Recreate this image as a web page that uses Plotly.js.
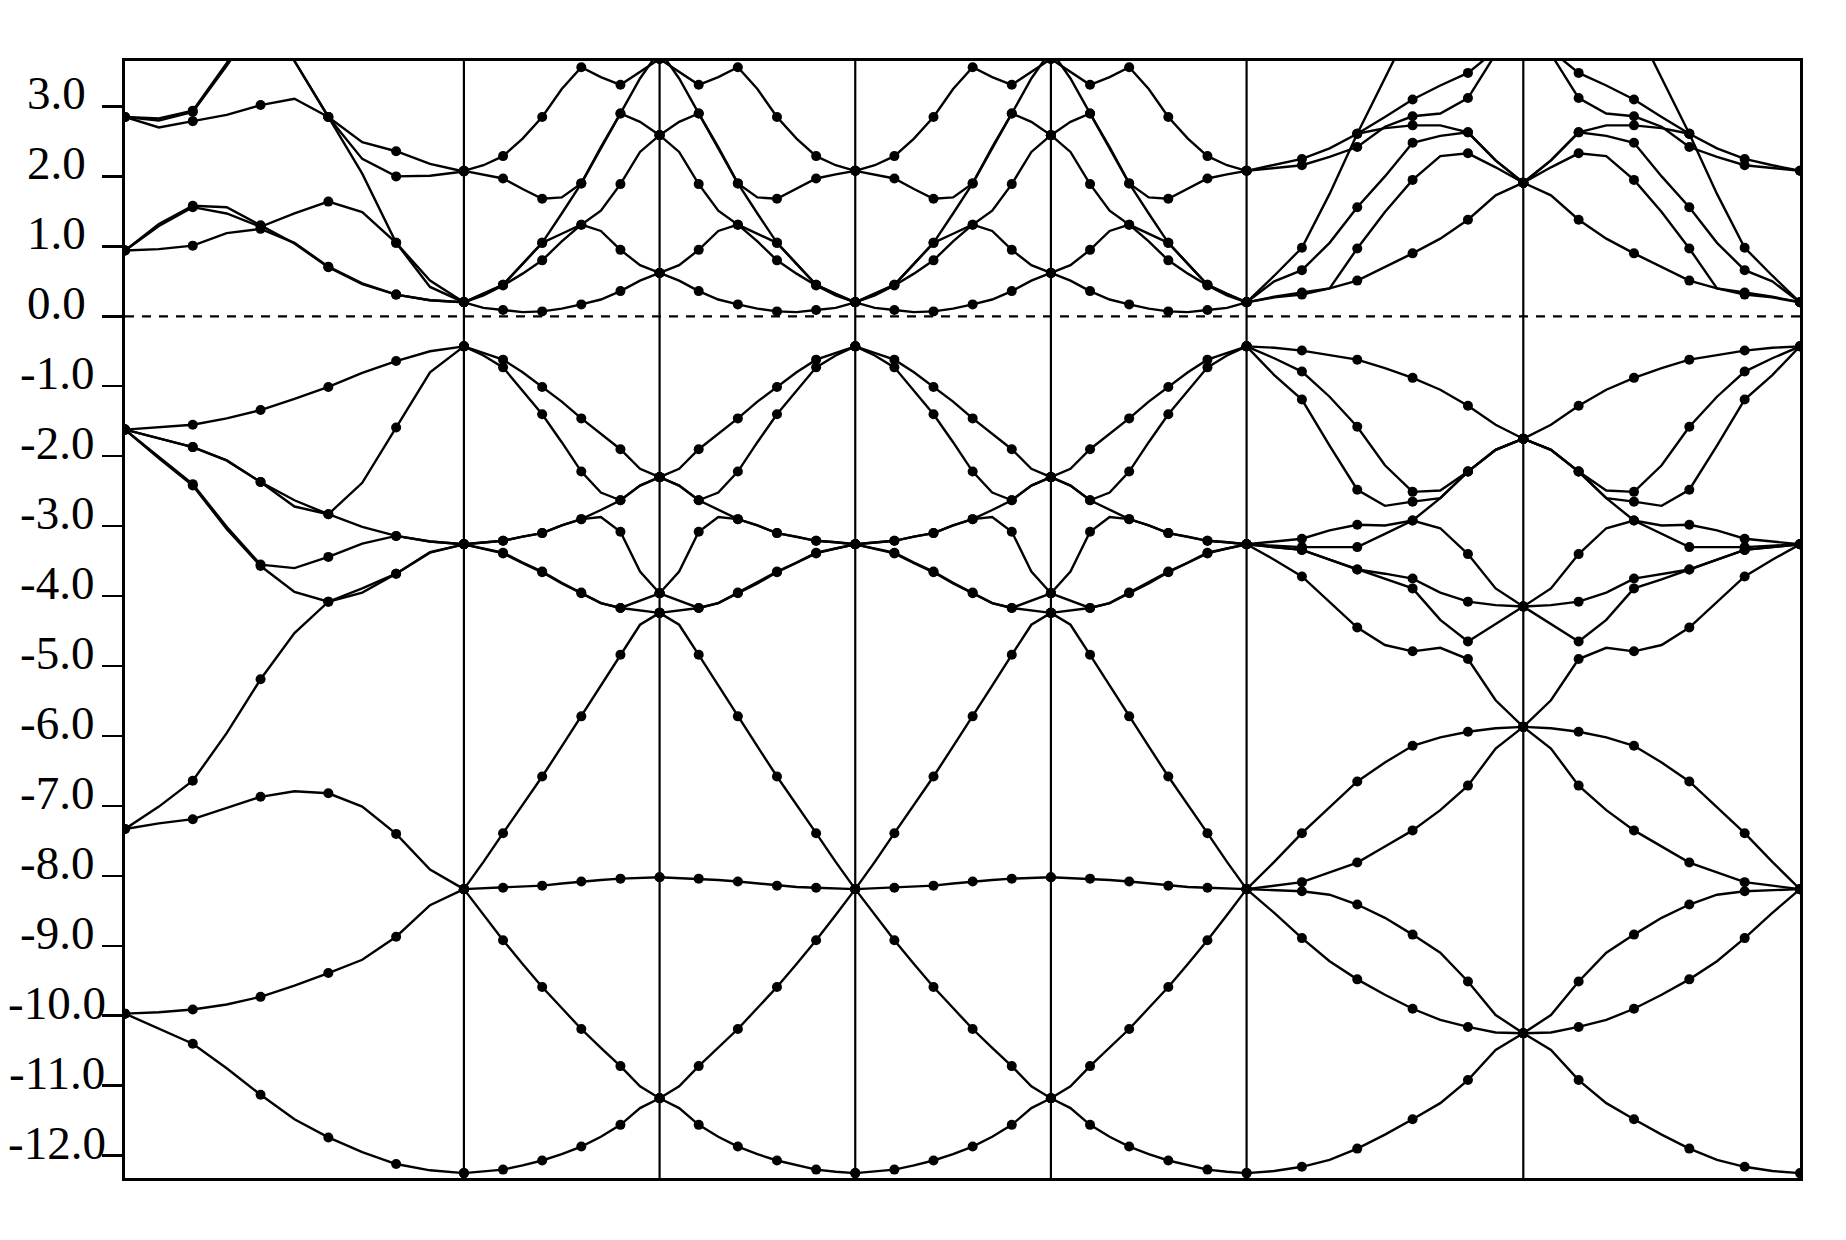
<!DOCTYPE html>
<html>
<head>
<meta charset="utf-8">
<script src="https://cdn.plot.ly/plotly-3.0.1.min.js"></script>
<style>
  html, body { margin: 0; padding: 0; background: #fff; }
  #chart { width: 1846px; height: 1240px; }
</style>
</head>
<body>
<div id="chart"></div>
<script>
// High-symmetry k positions along the path (cumulative distance)
const kTicks = [0, 1.7321, 2.7321, 3.7321, 4.7321, 5.7321, 7.1463, 8.5605];

// Y-axis tick labels
const yTickVals = [3, 2, 1, 0, -1, -2, -3, -4, -5, -6, -7, -8, -9, -10, -11, -12];
const yTickText = ['3.0', '2.0', '1.0', '0.0', '-1.0', '-2.0', '-3.0', '-4.0', '-5.0', '-6.0',
                   '-7.0', '-8.0', '-9.0', '-10.0', '-11.0', '-12.0'];

// ---- Segment 1 (left point -> Gamma), 11 k-points each ----
const s1_c1 = [2.85, 2.80, 2.92, 3.58, 4.30, null, null, null, null, null, null];
const s1_c2 = [2.85, 2.83, 2.94, 3.62, 4.35, null, null, null, null, null, null];
const s1_c3 = [2.85, 2.70, 2.79, 2.88, 3.02, 3.11, 2.85, 2.49, 2.36, 2.18, 2.07];
const s1_c4 = [null, null, null, null, 4.40, 3.65, 2.85, 2.04, 1.05, 0.42, 0.20];
const s1_c5 = [null, null, null, null, 4.40, 3.65, 2.85, 2.25, 2.00, 2.01, 2.07];
const s1_c6 = [0.94, 0.96, 1.01, 1.19, 1.25, 1.05, 0.71, 0.47, 0.31, 0.23, 0.20];
const s1_c7 = [0.94, 1.32, 1.58, 1.56, 1.30, 1.04, 0.70, 0.46, 0.31, 0.23, 0.20];
const s1_c8 = [0.94, 1.29, 1.56, 1.47, 1.28, 1.47, 1.64, 1.49, 1.05, 0.51, 0.20];
const s1_v1 = [-1.62, -1.58, -1.55, -1.46, -1.34, -1.18, -1.01, -0.81, -0.64, -0.50, -0.43];
const s1_v2 = [-1.62, -1.75, -1.87, -2.06, -2.37, -2.63, -2.83, -2.38, -1.59, -0.80, -0.43];
const s1_v3 = [-1.62, -1.75, -1.87, -2.06, -2.37, -2.72, -2.83, -3.01, -3.14, -3.22, -3.26];
const s1_v4 = [-1.62, -2.01, -2.40, -3.01, -3.55, -3.60, -3.44, -3.25, -3.14, -3.22, -3.26];
const s1_v5 = [-1.62, -2.03, -2.42, -3.04, -3.57, -3.94, -4.08, -3.95, -3.68, -3.38, -3.26];
const s1_v6 = [-7.33, -7.01, -6.64, -5.96, -5.19, -4.53, -4.08, -3.89, -3.68, -3.37, -3.26];
const s1_v7 = [-7.33, -7.25, -7.19, -7.03, -6.87, -6.79, -6.82, -7.01, -7.40, -7.91, -8.19];
const s1_v8 = [-9.97, -9.95, -9.91, -9.84, -9.73, -9.57, -9.39, -9.20, -8.87, -8.42, -8.19];
const s1_v9 = [-9.97, -10.18, -10.40, -10.75, -11.13, -11.48, -11.74, -11.95, -12.12, -12.21, -12.25];

// ---- Gamma -> X pattern (segments 2 and 4; mirrored in 3 and 5) ----
const gx_c1 = [0.20, 0.12, 0.09, 0.06, 0.07, 0.11, 0.17, 0.24, 0.36, 0.51, 0.62];
const gx_c2 = [0.20, 0.30, 0.44, 0.61, 0.80, 1.07, 1.31, 1.22, 0.95, 0.73, 0.62];
const gx_c3 = [0.20, 0.32, 0.45, 0.75, 1.05, 1.18, 1.31, 1.51, 1.89, 2.35, 2.59];
const gx_c4 = [0.20, 0.32, 0.45, 0.75, 1.05, 1.47, 1.90, 2.40, 2.90, 3.40, 3.80];
const gx_c5 = [2.08, 2.03, 1.97, 1.82, 1.68, 1.70, 1.90, 2.42, 2.90, 2.78, 2.59];
const gx_c6 = [2.08, 2.16, 2.29, 2.54, 2.85, 3.25, 3.56, 3.42, 3.31, 3.50, 3.68];
const gx_v1 = [-0.43, -0.52, -0.62, -0.80, -1.01, -1.22, -1.46, -1.68, -1.90, -2.18, -2.30];
const gx_v2 = [-0.43, -0.56, -0.73, -1.06, -1.40, -1.80, -2.22, -2.52, -2.63, -2.42, -2.30];
const gx_v3 = [-3.26, -3.23, -3.21, -3.15, -3.10, -2.99, -2.90, -2.87, -3.08, -3.65, -3.96];
const gx_v4 = [-3.26, -3.23, -3.21, -3.15, -3.10, -2.99, -2.90, -2.77, -2.63, -2.42, -2.30];
const gx_v5 = [-3.26, -3.32, -3.38, -3.52, -3.65, -3.81, -3.95, -4.10, -4.17, -4.21, -4.24];
const gx_v6 = [-3.26, -3.32, -3.39, -3.53, -3.66, -3.82, -3.96, -4.10, -4.17, -4.06, -3.96];
const gx_v7 = [-8.19, -7.80, -7.39, -6.98, -6.58, -6.15, -5.72, -5.28, -4.84, -4.41, -4.24];
const gx_v8 = [-8.19, -8.18, -8.17, -8.16, -8.14, -8.11, -8.08, -8.06, -8.04, -8.03, -8.02];
const gx_v9 = [-8.19, -8.56, -8.92, -9.26, -9.59, -9.89, -10.19, -10.46, -10.72, -11.01, -11.18];
const gx_v10 = [-12.25, -12.23, -12.20, -12.14, -12.07, -11.98, -11.87, -11.73, -11.56, -11.32, -11.18];

// ---- Gamma -> M pattern (segment 6; mirrored in 7) ----
const gm_c1 = [0.20, 0.27, 0.31, 0.40, 0.51, 0.70, 0.90, 1.11, 1.38, 1.73, 1.91];
const gm_c2 = [0.20, 0.28, 0.34, 0.40, 0.97, 1.49, 1.95, 2.29, 2.33, 2.13, 1.91];
const gm_c3 = [0.20, 0.50, 0.66, 1.05, 1.56, 2.00, 2.48, 2.58, 2.63, 2.23, 1.91];
const gm_c4 = [0.20, 0.58, 0.98, 1.75, 2.61, 3.40, 4.20, null, null, null, null];
const gm_c5 = [2.08, 2.12, 2.16, 2.28, 2.42, 2.71, 2.86, 2.90, 3.12, 3.75, null];
const gm_c6 = [2.08, 2.16, 2.25, 2.40, 2.61, 2.85, 3.10, 3.30, 3.48, 3.80, null];
const gm_c7 = [null, null, null, null, 2.61, 2.69, 2.73, 2.73, 2.63, 2.23, 1.91];
const gm_v1 = [-0.43, -0.45, -0.49, -0.55, -0.62, -0.74, -0.88, -1.05, -1.28, -1.55, -1.75];
const gm_v2 = [-0.43, -0.60, -0.79, -1.15, -1.58, -2.13, -2.51, -2.49, -2.22, -1.91, -1.75];
const gm_v3 = [-0.43, -0.84, -1.19, -1.85, -2.48, -2.71, -2.65, -2.60, -2.22, -1.91, -1.75];
const gm_v4 = [-3.26, -3.22, -3.18, -3.06, -2.98, -2.99, -2.92, -3.03, -3.40, -3.89, -4.15];
const gm_v5 = [-3.26, -3.28, -3.30, -3.30, -3.30, -3.11, -2.92, -2.60, -2.22, -1.91, -1.75];
const gm_v6 = [-3.26, -3.30, -3.34, -3.48, -3.62, -3.68, -3.75, -3.95, -4.08, -4.13, -4.15];
const gm_v7 = [-3.26, -3.30, -3.34, -3.48, -3.62, -3.76, -3.89, -4.34, -4.65, -4.40, -4.15];
const gm_v8 = [-3.26, -3.48, -3.72, -4.08, -4.45, -4.70, -4.79, -4.74, -4.90, -5.49, -5.87];
const gm_v9 = [-8.19, -7.80, -7.39, -7.02, -6.65, -6.38, -6.14, -6.02, -5.94, -5.89, -5.87];
const gm_v10 = [-8.19, -8.14, -8.09, -7.95, -7.81, -7.58, -7.35, -7.06, -6.71, -6.18, -5.87];
const gm_v11 = [-8.19, -8.20, -8.22, -8.27, -8.41, -8.60, -8.84, -9.10, -9.51, -9.99, -10.25];
const gm_v12 = [-8.19, -8.53, -8.89, -9.22, -9.48, -9.70, -9.90, -10.06, -10.16, -10.24, -10.25];
const gm_v13 = [-12.25, -12.22, -12.16, -12.06, -11.90, -11.70, -11.48, -11.25, -10.92, -10.49, -10.25];

const seg1Bands = [s1_c1, s1_c2, s1_c3, s1_c4, s1_c5, s1_c6, s1_c7, s1_c8,
                   s1_v1, s1_v2, s1_v3, s1_v4, s1_v5, s1_v6, s1_v7, s1_v8, s1_v9];
const gxBands = [gx_c1, gx_c2, gx_c3, gx_c4, gx_c5, gx_c6,
                 gx_v1, gx_v2, gx_v3, gx_v4, gx_v5, gx_v6, gx_v7, gx_v8, gx_v9, gx_v10];
const gmBands = [gm_c1, gm_c2, gm_c3, gm_c4, gm_c5, gm_c6, gm_c7,
                 gm_v1, gm_v2, gm_v3, gm_v4, gm_v5, gm_v6, gm_v7, gm_v8, gm_v9, gm_v10,
                 gm_v11, gm_v12, gm_v13];

// [start index, end index, bands, mirrored]
const segments = [
  [0, 1, seg1Bands, false],
  [1, 2, gxBands, false],
  [2, 3, gxBands, true],
  [3, 4, gxBands, false],
  [4, 5, gxBands, true],
  [5, 6, gmBands, false],
  [6, 7, gmBands, true]
];

const traces = [];
segments.forEach(([a, b, bands, mirrored]) => {
  const k0 = kTicks[a], k1 = kTicks[b];
  bands.forEach(band => {
    const y = mirrored ? band.slice().reverse() : band.slice();
    const n = y.length;
    const x = y.map((_, i) => k0 + (k1 - k0) * i / (n - 1));
    const sizes = y.map((_, i) => (i % 2 === 0 ? 10 : 0));
    traces.push({
      x: x, y: y, type: 'scatter', mode: 'lines+markers',
      line: { color: '#000', width: 2.4 },
      marker: { color: '#000', size: sizes, opacity: 1, line: { width: 0 } },
      connectgaps: false, hoverinfo: 'skip', showlegend: false
    });
  });
});

const shapes = [];
for (let i = 1; i < kTicks.length - 1; i++) {
  shapes.push({ type: 'line', xref: 'x', yref: 'paper', x0: kTicks[i], x1: kTicks[i], y0: 0, y1: 1,
                line: { color: '#000', width: 2.2 }, layer: 'below' });
}
shapes.push({ type: 'line', xref: 'x', yref: 'y', x0: kTicks[0], x1: kTicks[kTicks.length - 1], y0: 0, y1: 0,
              line: { color: '#000', width: 2.2, dash: '9px,8px' }, layer: 'below' });

// Tick labels are centred in the left margin (as in the reference), drawn as text annotations
const annotations = yTickVals.map((v, i) => ({
  xref: 'paper', yref: 'y', x: -0.0407, y: v, yshift: 13,
  text: yTickText[i], showarrow: false, xanchor: 'center', yanchor: 'middle',
  font: { family: 'Liberation Serif, Times New Roman, serif', size: 47, color: '#000' }
}));

const layout = {
  width: 1846, height: 1240,
  margin: { l: 125, r: 46, t: 61, b: 62 },
  paper_bgcolor: '#fff', plot_bgcolor: '#fff',
  showlegend: false,
  xaxis: {
    range: [kTicks[0], kTicks[kTicks.length - 1]],
    showticklabels: false, ticks: '', showgrid: false, zeroline: false,
    showline: true, mirror: true, linecolor: '#000', linewidth: 3
  },
  yaxis: {
    range: [-12.32, 3.65],
    tickmode: 'array', tickvals: yTickVals, showticklabels: false,
    ticks: 'outside', ticklen: 20, tickwidth: 2.5, tickcolor: '#000',
    showgrid: false, zeroline: false,
    showline: true, mirror: true, linecolor: '#000', linewidth: 3
  },
  shapes: shapes,
  annotations: annotations
};

Plotly.newPlot('chart', traces, layout, { displayModeBar: false, staticPlot: true });
</script>
</body>
</html>
